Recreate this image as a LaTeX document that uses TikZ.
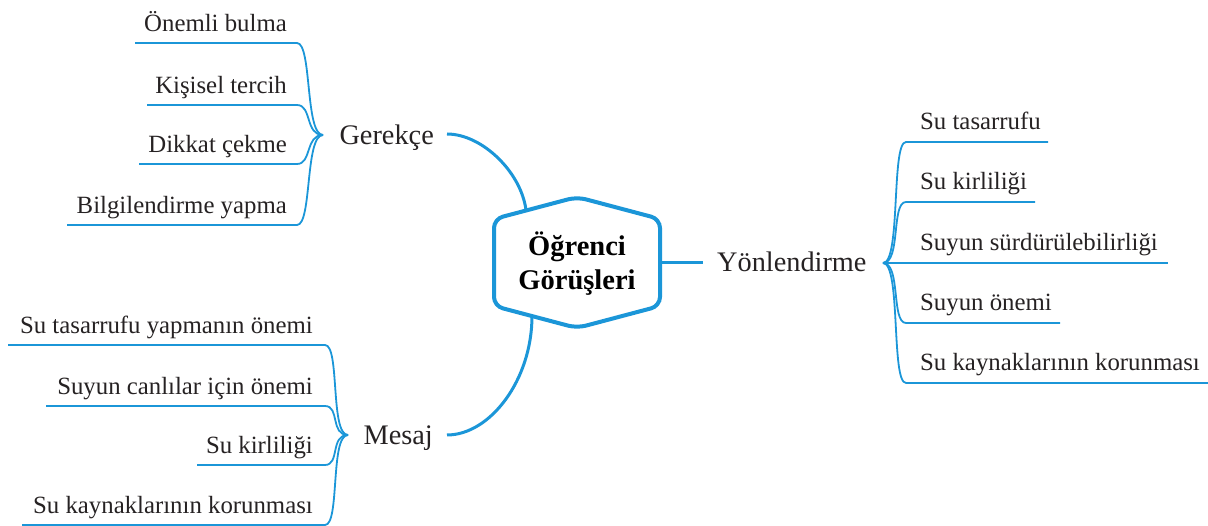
\documentclass[tikz,border=0pt]{standalone}
\usepackage{fontspec}
\setmainfont{Liberation Serif}
\definecolor{mmblue}{RGB}{27,150,216}
\definecolor{mmtext}{RGB}{38,34,35}
\tikzset{
  leafline/.style={draw=mmblue, line width=1.8pt},
  branchline/.style={draw=mmblue, line width=3pt},
  hexline/.style={draw=mmblue, line width=4pt, rounded corners=9pt, fill=white},
  leaftext/.style={inner sep=0pt, text=mmtext, font=\fontsize{24.8}{30}\selectfont},
  branchtext/.style={inner sep=0pt, text=mmtext, font=\fontsize{28.3}{34}\selectfont},
  centertext/.style={inner sep=0pt, align=center, text=black, font=\bfseries\fontsize{28.5}{34}\selectfont},
}
\begin{document}
\begin{tikzpicture}[x=1pt,y=-1pt]
\useasboundingbox (0,0) rectangle (1208,526);

% central hexagon
\draw[hexline] (494,262) -- (494,306) -- (577,328) -- (660,306) -- (660,219) -- (577,197) -- (494,219) -- cycle;
\node[centertext] (ctr) at (577,264) {Öğrenci\\Görüşleri};
\coordinate (hexnw) at (526,210);
\coordinate (hexsw) at (532,316);
\coordinate (hexe) at (660,263);

% branches
\node[branchtext, anchor=base east] (ger) at (434,145) {Gerekçe};
\node[branchtext, anchor=base east] (mes) at (433,445) {Mesaj};
\node[branchtext, anchor=base west] (yon) at (717,272) {Yönlendirme};
\coordinate (gerout) at (447,134);
\coordinate (mesout) at (447,435);
\coordinate (yonin) at (703,263);
\draw[branchline] (gerout) .. controls (482,134) and (521,172) .. (hexnw);
\draw[branchline] (mesout) .. controls (490,435) and (532,380) .. (hexsw);
\draw[branchline] (hexe) -- (yonin);

% Gerekce leaves
\coordinate (gj) at (323,135);
\foreach \n/\y/\xl/\t in {1/43/135/Önemli bulma, 2/105/147/Kişisel tercih, 3/164/139/Dikkat çekme, 4/225/67/Bilgilendirme yapma} {
  \node[leaftext, anchor=base east] (g\n) at (287,\y-11) {\t};
  \coordinate (g\n c) at (297,\y);
  \coordinate (g\n l) at (\xl,\y);
  \draw[leafline] (gj) .. controls +(-18,0) and +(15,0) .. (g\n c) -- (g\n l);
}

% Mesaj leaves
\coordinate (mj) at (348,435);
\foreach \n/\y/\xl/\t in {1/345/8/Su tasarrufu yapmanın önemi, 2/406/46/Suyun canlılar için önemi, 3/465/197/Su kirliliği, 4/525/22/Su kaynaklarının korunması} {
  \node[leaftext, anchor=base east] (m\n) at (313,\y-11) {\t};
  \coordinate (m\n c) at (325,\y);
  \coordinate (m\n l) at (\xl,\y);
  \draw[leafline] (mj) .. controls +(-18,0) and +(15,0) .. (m\n c) -- (m\n l);
}

% Yonlendirme leaves
\coordinate (yj) at (883,263);
\foreach \n/\y/\xr/\t in {1/142/1048/Su tasarrufu, 2/202/1035/Su kirliliği, 3/263/1168/Suyun sürdürülebilirliği, 4/323/1060/Suyun önemi, 5/383/1208/Su kaynaklarının korunması} {
  \node[leaftext, anchor=base west] (y\n) at (920,\y-12) {\t};
  \coordinate (y\n c) at (906,\y);
  \coordinate (y\n r) at (\xr,\y);
  \draw[leafline] (yj) .. controls +(18,0) and +(-15,0) .. (y\n c) -- (y\n r);
}
\end{tikzpicture}
\end{document}
